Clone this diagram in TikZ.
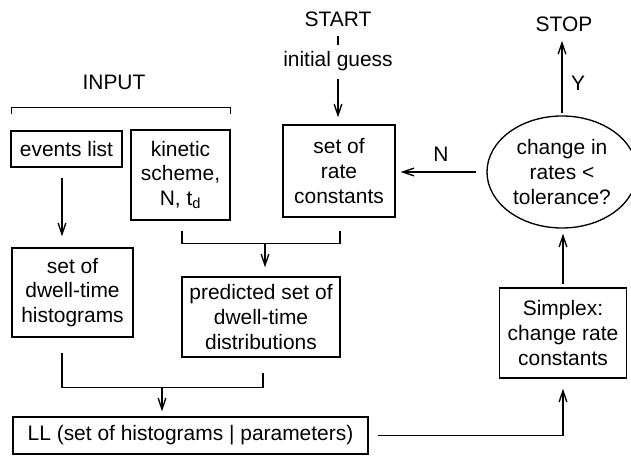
\documentclass[tikz,border=0pt]{standalone}
\usepackage{fontspec}
\setmainfont{Liberation Sans}
\usetikzlibrary{arrows.meta,calc,shapes.geometric}

\begin{document}
\begin{tikzpicture}[x=0.25mm,y=-0.25mm,line width=0.95pt,
  font=\fontsize{14.9}{17.5}\selectfont,
  box/.style={draw,align=center,inner sep=0pt},
  lbl/.style={inner sep=0pt,anchor=base},
  arr/.style={-{Straight Barb[length=8pt,width=5.5pt]}}]
\useasboundingbox (0,0) rectangle (631,456);

% labels
\node[lbl] (input) at (114,90) {INPUT};
\node[lbl] (start) at (338,27) {START};
\node[lbl] (guess) at (338,67) {initial guess};
\node[lbl] (stop) at (564,32) {STOP};

% boxes
\node[box,minimum width=27.75mm,minimum height=9mm] (events) at (66.5,149) {events list};
\node[box,minimum width=24.75mm,minimum height=22.5mm] (kinetic) at (180.5,175) {kinetic\\scheme,\\N, t\textsubscript{d}};
\node[box,minimum width=28mm,minimum height=23mm] (rate) at (339,171) {set of\\rate\\constants};
\node[box,ellipse,minimum width=37.5mm,minimum height=28mm] (cond) at (562,172) {change in\\rates <\\tolerance?};
\node[box,minimum width=30.25mm,minimum height=22.25mm] (dwell) at (72.5,292.5) {set of\\dwell-time\\histograms};
\node[box,minimum width=39.5mm,minimum height=20mm] (predicted) at (261,317) {predicted set of\\dwell-time\\distributions};
\node[box,minimum width=31.75mm,minimum height=22.5mm] (simplex) at (563,333) {Simplex:\\change rate\\constants};
\node[box,minimum width=88.75mm,minimum height=9.25mm] (LL) at (190.5,435.5) {LL (set of histograms | parameters)};

% brackets
\draw ($(events.north west)+(1,-16)$) -- ++(0,-7) -| ($(kinetic.north east)+(0,-15)$);
\draw ($(kinetic.south)+(1.5,10)$) -- ++(0,13) -| ($(rate.south)+(1,13)$);
\draw ($(dwell.south)+(-10.5,15)$) -- ++(0,35) -| ($(predicted.south)+(2,15)$);

\coordinate (e0) at (62,167);
\coordinate (j1) at (265,243);
\coordinate (j2) at (162,387);

% arrows
\draw[shorten <=2mm,shorten >=1.5mm] (start.south) -- (guess.north);
\draw[arr,shorten <=1.75mm,shorten >=1.75mm] (guess.south) -- (guess.south |- rate.north);
\draw[arr,shorten <=2.75mm,shorten >=2.75mm] (e0) -- (e0 |- dwell.north);
\draw[arr,shorten >=2.25mm] (j1) -- (j1 |- predicted.north);
\draw[arr,shorten >=1.25mm] (j2) -- (j2 |- LL.north);
\draw[arr,shorten <=2.25mm,shorten >=2.5mm] (LL.east) -| (simplex.south);
\draw[arr,shorten <=0.75mm,shorten >=1.25mm] (simplex.north) -- (simplex.north |- cond.south);
\draw[arr,shorten <=2.5mm,shorten >=1.25mm] (cond.west) -- (cond.west -| rate.east)
  node[lbl,pos=0.5,yshift=2.5mm] (nlbl) {N};
\draw[arr,shorten <=0.5mm,shorten >=2mm] (cond.north) -- (cond.north |- stop.south)
  node[lbl,pos=0.3,xshift=4mm] (ylbl) {Y};

\end{tikzpicture}
\end{document}
